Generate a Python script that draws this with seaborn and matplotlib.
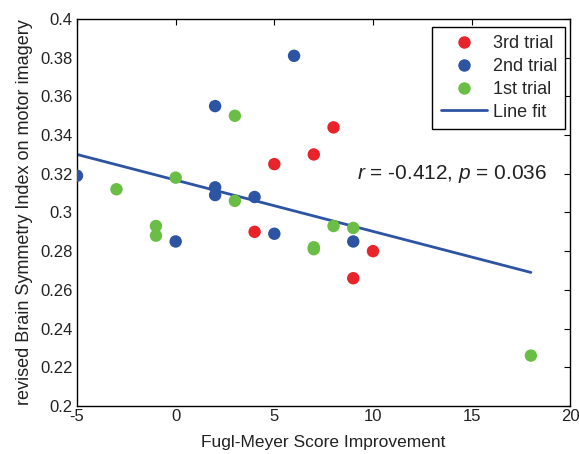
import pandas as pd
import numpy as np
import matplotlib
matplotlib.use("Agg")
import matplotlib.pyplot as plt
from matplotlib.ticker import FuncFormatter, MultipleLocator
import seaborn as sns

# data
x_3rd = [4, 5, 7, 8, 9, 10]
y_3rd = [0.290, 0.325, 0.330, 0.344, 0.266, 0.280]
x_2nd = [-5, 0, 2, 2, 2, 4, 5, 6, 9]
y_2nd = [0.319, 0.285, 0.355, 0.313, 0.309, 0.308, 0.289, 0.381, 0.285]
x_1st = [-3, -1, -1, 0, 3, 3, 7, 7, 8, 9, 18]
y_1st = [0.312, 0.293, 0.288, 0.318, 0.350, 0.306, 0.282, 0.281, 0.293, 0.292, 0.226]
fit_x = [-5, 18]
fit_y = [0.330, 0.269]

trials = ['3rd trial', '2nd trial', '1st trial']
colors = {'3rd trial': '#E8232A', '2nd trial': '#2D54A3', '1st trial': '#6BBE45'}

df = pd.concat([
    pd.DataFrame({'fm': x_3rd, 'bsi': y_3rd, 'trial': '3rd trial'}),
    pd.DataFrame({'fm': x_2nd, 'bsi': y_2nd, 'trial': '2nd trial'}),
    pd.DataFrame({'fm': x_1st, 'bsi': y_1st, 'trial': '1st trial'}),
])

sns.set_style('white')
plt.rcParams['font.family'] = ['Liberation Sans', 'DejaVu Sans']
plt.rcParams['mathtext.fontset'] = 'custom'
plt.rcParams['mathtext.it'] = 'Liberation Sans:italic'
plt.rcParams['mathtext.rm'] = 'Liberation Sans'
plt.rcParams['axes.unicode_minus'] = False

fig = plt.figure(figsize=(5.79, 4.54), dpi=100)
ax = fig.add_axes([0.133, 0.106, 0.852, 0.852])

ax.plot(fit_x, fit_y, color='#2D54A3', lw=2, zorder=1, label='Line fit')
sns.scatterplot(data=df, x='fm', y='bsi', hue='trial', hue_order=trials,
                palette=colors, s=80, linewidth=0, ax=ax, zorder=3)

ax.set_xlim(-5, 20)
ax.set_ylim(0.2, 0.4)
ax.xaxis.set_major_locator(MultipleLocator(5))
ax.yaxis.set_major_locator(MultipleLocator(0.02))
ax.yaxis.set_major_formatter(FuncFormatter(lambda v, p: f'{v:g}'))
ax.tick_params(direction='in', top=True, right=True, length=4, width=0.8,
               labelsize=12, color='black', labelcolor='#222222', pad=3)
ax.tick_params(axis='x', pad=2)
for s in ax.spines.values():
    s.set_color('black')
    s.set_linewidth(1)

ax.set_xlabel('Fugl-Meyer Score Improvement', fontsize=12.5, color='#222222', labelpad=8)
ax.set_ylabel('revised Brain Symmetry Index on motor imagery', fontsize=13,
              color='#222222', labelpad=5)

ax.text(0.567, 0.60, '$r$ = -0.412, $p$ = 0.036', transform=ax.transAxes,
        fontsize=15, color='#222222', ha='left', va='center')

handles, labels = ax.get_legend_handles_labels()
order = [labels.index(t) for t in trials] + [labels.index('Line fit')]
leg = ax.legend([handles[i] for i in order], [labels[i] for i in order],
                loc='upper right', bbox_to_anchor=(0.990, 0.979), fontsize=13,
                frameon=True, fancybox=False, edgecolor='black', framealpha=1,
                borderpad=0.45, labelspacing=0.32, handlelength=2.6,
                handletextpad=0.3, borderaxespad=0)
leg.get_frame().set_linewidth(1)

fig.savefig('out.png', dpi=100)
